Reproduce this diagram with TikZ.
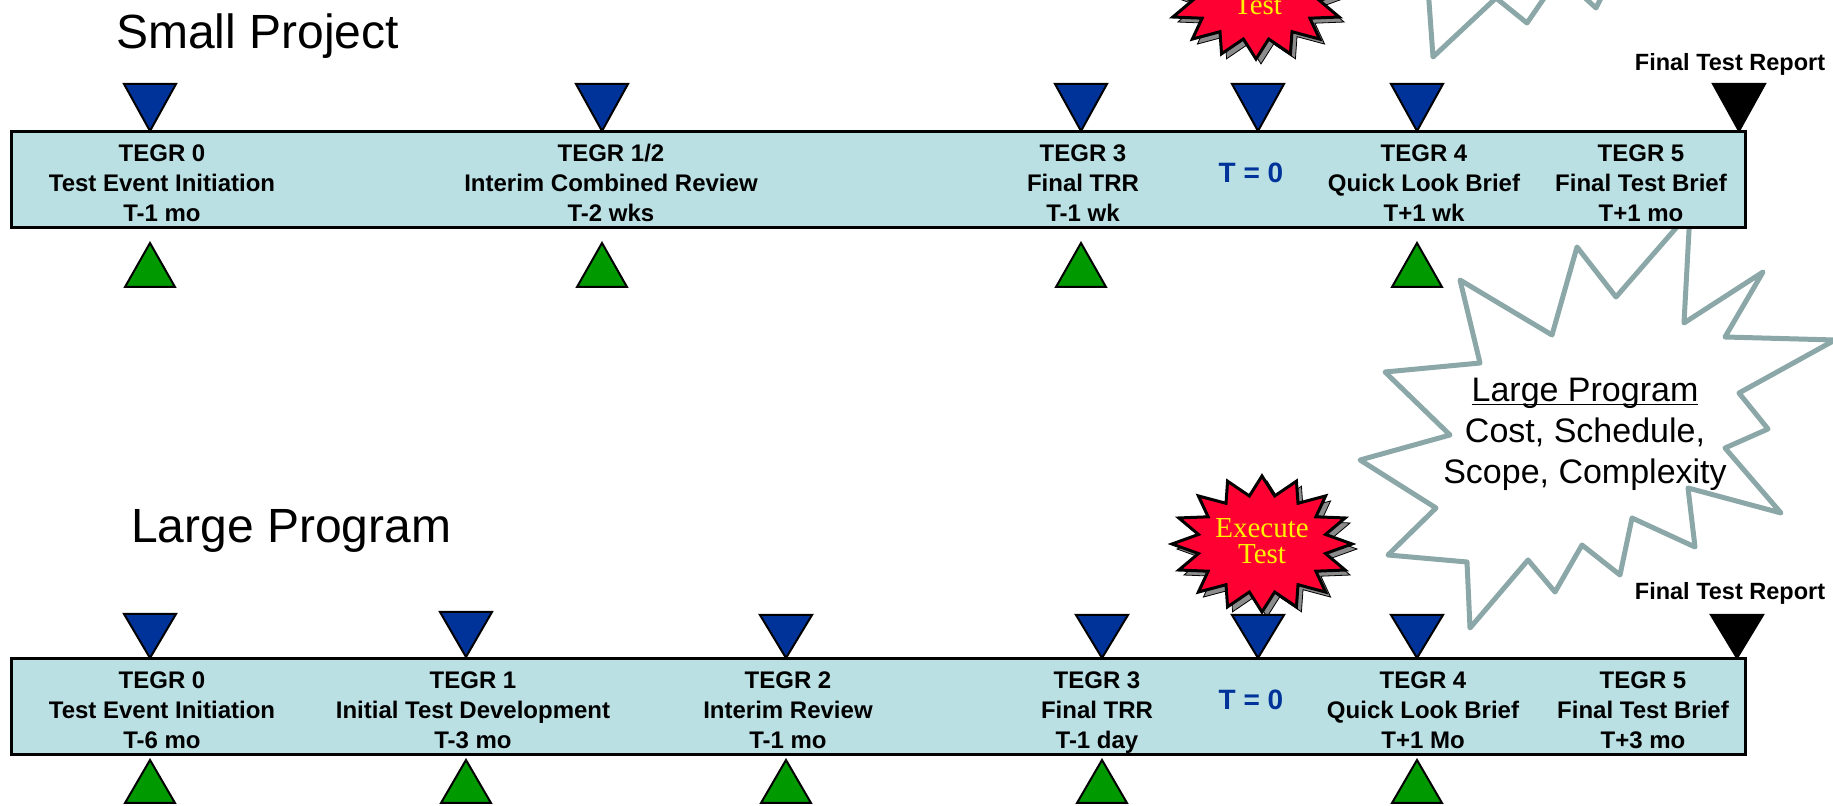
\documentclass[tikz,border=0pt]{standalone}
\usepackage{fontspec}
\setmainfont{Liberation Sans}
\newfontfamily\burstfont{Liberation Serif}
\definecolor{barcyan}{RGB}{186,224,228}
\definecolor{tegrblue}{RGB}{0,51,153}
\definecolor{tegrgreen}{RGB}{0,153,0}
\definecolor{burstred}{RGB}{255,0,51}
\definecolor{cloudgrey}{RGB}{139,167,168}

\begin{document}
\begin{tikzpicture}[x=0.5pt,y=-0.5pt,
	bar/.style={draw=black,line width=1.5pt,fill=barcyan},
	downtri/.style={draw=black,line width=1pt,fill=tegrblue},
	uptri/.style={draw=black,line width=1pt,fill=tegrgreen},
	tegr/.style={align=center,font=\bfseries\fontsize{12}{15}\selectfont},
	tzero/.style={font=\bfseries\fontsize{14}{16}\selectfont,text=tegrblue},
	reportlbl/.style={font=\bfseries\fontsize{11.75}{14}\selectfont},
	heading/.style={anchor=base west,font=\fontsize{24}{28}\selectfont},
	cloud/.style={draw=cloudgrey,line width=2.5pt,line join=round},
	burst/.style={draw=black,line width=1.5pt,fill=burstred},
	burstshadow/.style={fill=black!45},
	bursttext/.style={align=center,text=yellow,font=\burstfont\fontsize{14.5}{13}\selectfont}]

	\useasboundingbox (0,0) rectangle (1833,806);
	\clip (0,0) rectangle (1833,806);

	% clouds behind the bars
	\draw[cloud] (1426,-40) -- (1433,57) -- (1496,-2) -- (1527,23) -- (1560,-25) -- (1596,8) -- (1615,-30);
	\draw[cloud,fill=white] (1690,212) -- (1684,323) -- (1763,272) -- (1725,337) -- (1835,340) -- (1739,393) -- (1768,429) -- (1725,448) -- (1781,513) -- (1688,488) -- (1695,547) -- (1632,518) -- (1620,575) -- (1582,545) -- (1555,592) -- (1528,560) -- (1470,628) -- (1467,562) -- (1388,555) -- (1436,508) -- (1360,460) -- (1450,435) -- (1385,372) -- (1480,363) -- (1460,280) -- (1552,335) -- (1577,247) -- (1616,297) -- cycle;
	\node[align=center,font=\fontsize{17}{20.5}\selectfont] (scope) at (1585,446) {\underline{\smash{Large Program}}\\Cost, Schedule,\\Scope, Complexity};

	% execute test bursts
	\draw[burstshadow] plot[samples at={0,...,31}] ({1261+90*(1-0.28*mod(\x,2))*cos(90+11.25*\x)},{-4-68*(1-0.28*mod(\x,2))*sin(90+11.25*\x)}) -- cycle;
	\draw[burst] plot[samples at={0,...,31}] ({1256+90*(1-0.28*mod(\x,2))*cos(90+11.25*\x)},{-9-68*(1-0.28*mod(\x,2))*sin(90+11.25*\x)}) -- cycle;
	\node[bursttext] (exectop) at (1258,-8) {Execute\\Test};
	\draw[burstshadow] plot[samples at={0,...,31}] ({1267+90*(1-0.28*mod(\x,2))*cos(90+11.25*\x)},{549-68*(1-0.28*mod(\x,2))*sin(90+11.25*\x)}) -- cycle;
	\draw[burst] plot[samples at={0,...,31}] ({1262+90*(1-0.28*mod(\x,2))*cos(90+11.25*\x)},{544-68*(1-0.28*mod(\x,2))*sin(90+11.25*\x)}) -- cycle;
	\node[bursttext] (execbot) at (1262,541) {Execute\\Test};

	% Small Project
	\node[heading] (small) at (109,49) {Small Project};
	\draw[bar] (11,132) rectangle (1745,228);
	\draw[downtri] (124,84) -- (176,84) -- (150,131) -- cycle;
	\draw[downtri] (576,84) -- (628,84) -- (602,131) -- cycle;
	\draw[downtri] (1055,84) -- (1107,84) -- (1081,131) -- cycle;
	\draw[downtri] (1232,84) -- (1284,84) -- (1258,131) -- cycle;
	\draw[downtri] (1391,84) -- (1443,84) -- (1417,131) -- cycle;
	\draw[downtri,fill=black] (1713,84) -- (1765,84) -- (1739,131) -- cycle;
	\draw[uptri] (125,287) -- (175,287) -- (150,243) -- cycle;
	\draw[uptri] (577,287) -- (627,287) -- (602,243) -- cycle;
	\draw[uptri] (1056,287) -- (1106,287) -- (1081,243) -- cycle;
	\draw[uptri] (1392,287) -- (1442,287) -- (1417,243) -- cycle;
	\node[reportlbl] (rep1) at (1730,64) {Final Test Report};
	\node[tegr] (s0) at (162,183) {TEGR 0\\Test Event Initiation\\T-1 mo};
	\node[tegr] (s12) at (611,183) {TEGR 1/2\\Interim Combined Review\\T-2 wks};
	\node[tegr] (s3) at (1083,183) {TEGR 3\\Final TRR\\T-1 wk};
	\node[tzero] (st0) at (1251,173) {T = 0};
	\node[tegr] (s4) at (1424,183) {TEGR 4\\Quick Look Brief\\T+1 wk};
	\node[tegr] (s5) at (1641,183) {TEGR 5\\Final Test Brief\\T+1 mo};

	% Large Program
	\node[heading] (large) at (124,543) {Large Program};
	\draw[bar] (11,659) rectangle (1745,755);
	\draw[downtri] (440,612) -- (492,612) -- (466,657) -- cycle;
	\draw[downtri] (124,614) -- (176,614) -- (150,658) -- cycle;
	\draw[downtri] (760,615) -- (812,615) -- (786,658) -- cycle;
	\draw[downtri] (1076,615) -- (1128,615) -- (1102,658) -- cycle;
	\draw[downtri] (1232,615) -- (1284,615) -- (1258,658) -- cycle;
	\draw[downtri] (1391,615) -- (1443,615) -- (1417,658) -- cycle;
	\draw[downtri,fill=black] (1711,615) -- (1763,615) -- (1737,658) -- cycle;
	\draw[uptri] (125,803) -- (175,803) -- (150,760) -- cycle;
	\draw[uptri] (441,803) -- (491,803) -- (466,760) -- cycle;
	\draw[uptri] (761,803) -- (811,803) -- (786,760) -- cycle;
	\draw[uptri] (1077,803) -- (1127,803) -- (1102,760) -- cycle;
	\draw[uptri] (1392,803) -- (1442,803) -- (1417,760) -- cycle;
	\node[reportlbl] (rep2) at (1730,593) {Final Test Report};
	\node[tegr] (l0) at (162,710) {TEGR 0\\Test Event Initiation\\T-6 mo};
	\node[tegr] (l1) at (473,710) {TEGR 1\\Initial Test Development\\T-3 mo};
	\node[tegr] (l2) at (788,710) {TEGR 2\\Interim Review\\T-1 mo};
	\node[tegr] (l3) at (1097,712.5) {TEGR 3\\Final TRR\\T-1 day};
	\node[tzero] (lt0) at (1251,700) {T = 0};
	\node[tegr] (l4) at (1423,710) {TEGR 4\\Quick Look Brief\\T+1 Mo};
	\node[tegr] (l5) at (1643,710) {TEGR 5\\Final Test Brief\\T+3 mo};
\end{tikzpicture}
\end{document}
